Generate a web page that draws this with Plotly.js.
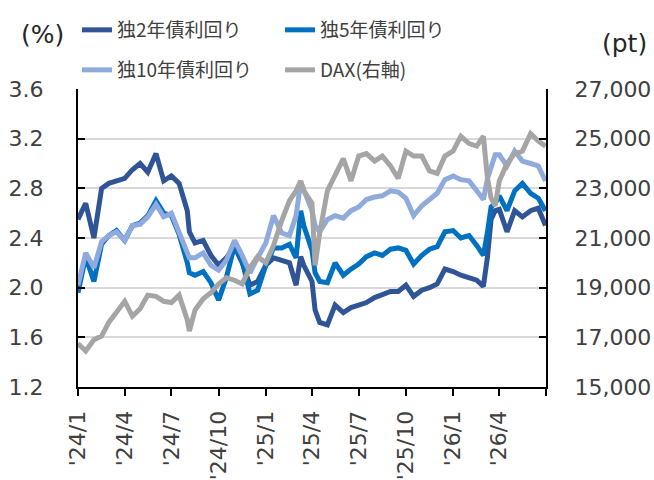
<!DOCTYPE html>
<html>
<head>
<meta charset="utf-8">
<script src="https://cdn.plot.ly/plotly-3.0.1.min.js"></script>
<style>html,body{margin:0;padding:0;background:#fff;}#chart{width:654px;height:480px;}</style>
</head>
<body>
<div id="chart"></div>
<script>
// Observation dates (semi-monthly readings, plus a few turning points)
const dates = [
 '2024-01-01','2024-01-16','2024-02-01','2024-02-16','2024-03-01','2024-03-16','2024-04-01','2024-04-16',
 '2024-05-01','2024-05-16','2024-06-01','2024-06-16','2024-07-01','2024-07-16','2024-08-01','2024-08-05',
 '2024-08-16','2024-09-01','2024-09-16','2024-10-01','2024-10-16','2024-11-01','2024-11-16','2024-12-01',
 '2024-12-16','2025-01-01','2025-01-16','2025-02-01','2025-02-16','2025-03-01','2025-03-10','2025-03-16',
 '2025-04-01','2025-04-07','2025-04-16','2025-05-01','2025-05-16','2025-06-01','2025-06-16','2025-07-01',
 '2025-07-16','2025-08-01','2025-08-16','2025-09-01','2025-09-16','2025-10-01','2025-10-16','2025-11-01',
 '2025-11-16','2025-12-01','2025-12-16','2026-01-01','2026-01-16','2026-02-01','2026-02-16','2026-03-01',
 '2026-03-09','2026-03-16','2026-03-24','2026-04-01','2026-04-16','2026-05-01','2026-05-16','2026-06-01',
 '2026-06-16','2026-06-30'
];
// German 2Y yield (%)
const y2 = [
 2.55,2.68,2.40,2.80,2.84,2.86,2.88,2.95,
 3.00,2.93,3.08,2.86,2.90,2.84,2.62,2.45,
 2.36,2.38,2.26,2.18,2.24,2.33,2.20,2.02,
 2.05,2.18,2.24,2.22,2.20,2.02,2.25,2.18,
 2.05,1.82,1.72,1.70,1.86,1.80,1.84,1.86,
 1.88,1.92,1.94,1.97,1.97,2.02,1.93,1.98,
 2.00,2.03,2.15,2.13,2.10,2.08,2.06,2.01,
 2.25,2.55,2.62,2.63,2.45,2.62,2.57,2.62,
 2.64,2.50
];
// German 5Y yield (%)
const y5 = [
 1.96,2.25,2.05,2.35,2.42,2.46,2.38,2.50,
 2.52,2.58,2.70,2.60,2.58,2.43,2.20,2.12,
 2.10,2.13,2.04,1.90,2.08,2.34,2.22,1.95,
 1.98,2.18,2.32,2.32,2.35,2.24,2.62,2.50,
 2.30,2.12,2.05,2.04,2.20,2.10,2.15,2.19,
 2.25,2.28,2.26,2.31,2.32,2.30,2.19,2.26,
 2.31,2.33,2.45,2.46,2.40,2.42,2.34,2.26,
 2.45,2.65,2.68,2.74,2.62,2.78,2.84,2.76,
 2.72,2.62
];
// German 10Y yield (%)
const y10 = [
 2.02,2.28,2.16,2.37,2.42,2.45,2.38,2.50,
 2.51,2.57,2.67,2.57,2.60,2.45,2.30,2.24,
 2.24,2.28,2.18,2.14,2.22,2.38,2.26,2.12,
 2.24,2.36,2.58,2.44,2.42,2.58,2.85,2.78,
 2.62,2.50,2.45,2.55,2.58,2.56,2.62,2.65,
 2.71,2.73,2.74,2.78,2.77,2.72,2.58,2.66,
 2.71,2.76,2.87,2.90,2.87,2.86,2.78,2.71,
 2.88,2.98,3.07,3.07,2.98,3.10,3.02,3.00,
 2.98,2.86
];
// DAX index (pt, right axis)
const dax = [
 16750,16450,16900,17050,17600,18000,18450,17850,
 18150,18700,18650,18450,18400,18700,17700,17250,
 18100,18550,18800,19150,19400,19300,19150,19800,
 20250,20000,20700,21700,22500,22900,23300,22900,
 22400,19900,21200,22900,23500,24200,23300,24300,
 24400,24100,24300,23900,23400,24500,24300,24300,
 23700,23600,24300,24500,25100,24800,24700,25100,
 23400,22600,22300,23300,24000,24400,24500,25200,
 24900,24700
];
const seriesNames = ['独2年債利回り','独5年債利回り','独10年債利回り','DAX(右軸)'];
const tickDates = ['2024-01-01','2024-04-01','2024-07-01','2024-10-01','2025-01-01','2025-04-01',
                   '2025-07-01','2025-10-01','2026-01-01','2026-04-01','2026-07-01'];
const tickLabels = ["'24/1","'24/4","'24/7","'24/10","'25/1","'25/4","'25/7","'25/10","'26/1","'26/4",""];

const colors = ['#2F5597','#0070C0','#8FAADC','#A5A5A5'];
const LW = 5;
const traces = [
  {x:dates, y:y2,  name:seriesNames[0], type:'scatter', mode:'lines', line:{color:colors[0], width:LW}, legend:'legend'},
  {x:dates, y:y5,  name:seriesNames[1], type:'scatter', mode:'lines', line:{color:colors[1], width:LW}, legend:'legend2'},
  {x:dates, y:y10, name:seriesNames[2], type:'scatter', mode:'lines', line:{color:colors[2], width:LW}, legend:'legend3'},
  {x:dates, y:dax, name:seriesNames[3], type:'scatter', mode:'lines', line:{color:colors[3], width:LW}, legend:'legend4', yaxis:'y2'}
];

const tickFont = {family:'DejaVu Sans, Verdana, sans-serif', size:22, color:'#404040'};
const unitFont = {family:'DejaVu Sans, Verdana, sans-serif', size:25, color:'#262626'};
const legFont = {family:'Noto Sans CJK JP, sans-serif', size:19, color:'#404040'};
function leg(xpx, ypx){
  return {xref:'container', yref:'container', x:xpx/654, y:1-ypx/480, xanchor:'left', yanchor:'middle',
          orientation:'h', font:legFont, bgcolor:'rgba(0,0,0,0)', borderwidth:0};
}
const layout = {
  width:654, height:480,
  margin:{l:78, r:108, t:85, b:93},
  paper_bgcolor:'#fff', plot_bgcolor:'#fff',
  font:tickFont,
  xaxis:{type:'date', range:['2024-01-01','2026-07-01'], tickmode:'array', tickvals:tickDates, ticktext:tickLabels,
         tickangle:-90, ticks:'outside', ticklen:7, tickwidth:2, tickcolor:'#000',
         showline:true, linecolor:'#000', linewidth:2, showgrid:false, zeroline:false, tickfont:tickFont,
         ticklabelstandoff:6},
  yaxis:{range:[1.2,3.6], tick0:1.2, dtick:0.4, tickformat:'.1f', showgrid:true, gridcolor:'#D9D9D9', gridwidth:2,
         showline:true, linecolor:'#000', linewidth:2, ticks:'inside', ticklen:7, tickwidth:2, tickcolor:'#000',
         zeroline:false, tickfont:tickFont, ticklabelstandoff:28},
  yaxis2:{range:[15000,27000], tick0:15000, dtick:2000, tickformat:',d', overlaying:'y', side:'right', showgrid:false,
          showline:true, linecolor:'#000', linewidth:2, ticks:'inside', ticklen:7, tickwidth:2, tickcolor:'#000',
          zeroline:false, tickfont:tickFont, ticklabelstandoff:22},
  showlegend:true,
  legend:leg(77,30), legend2:leg(280,30), legend3:leg(77,70), legend4:leg(280,70),
  annotations:[
    {text:'(%)', xref:'paper', yref:'paper', x:(42-78)/468, y:(387-30)/302, showarrow:false, font:unitFont, xanchor:'center', yanchor:'middle'},
    {text:'(pt)', xref:'paper', yref:'paper', x:(624-78)/468, y:(387-39)/302, showarrow:false, font:unitFont, xanchor:'center', yanchor:'middle'}
  ]
};
Plotly.newPlot('chart', traces, layout, {displayModeBar:false, staticPlot:true});
</script>
</body>
</html>
